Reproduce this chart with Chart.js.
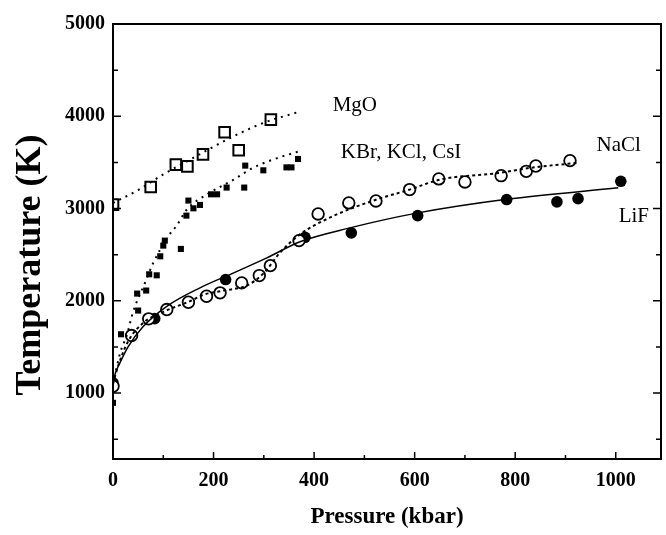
<!DOCTYPE html>
<html>
<head>
<meta charset="utf-8">
<script src="https://cdn.jsdelivr.net/npm/chart.js@4.4.1/dist/chart.umd.min.js"></script>
<style>
  html, body { margin: 0; padding: 0; background: #fff; }
  canvas { display: block; }
</style>
</head>
<body>
<canvas id="meltChart" width="666" height="535"></canvas>
<script>
// pressure (kbar), temperature (K)
const mgoP = [0, 75, 125, 148, 179, 222, 250, 314];
const mgoT = [3042, 3234, 3476, 3457, 3587, 3826, 3631, 3963];
const mgoFitP = [0, 50, 100, 150, 200, 250, 300, 365];
const mgoFitT = [3060, 3200, 3370, 3520, 3670, 3810, 3930, 4040];

const kbrP = [0, 16, 48, 50, 66, 72, 87, 94, 100, 103, 135, 146, 150, 160, 173, 195, 207, 226, 261, 263, 299, 345, 355, 368];
const kbrT = [894, 1637, 2078, 1894, 2111, 2287, 2276, 2482, 2598, 2652, 2562, 2923, 3086, 3002, 3039, 3154, 3154, 3227, 3227, 3465, 3414, 3446, 3446, 3537];
const kbrFitP = [0, 15, 27, 40, 64, 80, 110, 126, 147, 186, 239, 278, 318, 370];
const kbrFitT = [1100, 1450, 1620, 1880, 2200, 2410, 2700, 2810, 2990, 3150, 3310, 3440, 3530, 3620];

const naclP = [0, 37, 71, 107, 150, 186, 213, 256, 291, 313, 370, 408, 469, 523, 590, 648, 700, 772, 822, 841, 909];
const naclT = [1074, 1623, 1804, 1905, 1984, 2049, 2086, 2194, 2273, 2381, 2652, 2941, 3061, 3082, 3205, 3321, 3288, 3356, 3403, 3461, 3519];
const naclFitP = [0, 10, 30, 60, 100, 155, 180, 220, 266, 300, 332, 372, 437, 524, 590, 650, 769, 829, 922];
const naclFitT = [1100, 1290, 1560, 1760, 1880, 2000, 2065, 2110, 2165, 2300, 2520, 2720, 2916, 3097, 3205, 3313, 3386, 3440, 3494];

const lifP = [0, 83, 224, 382, 474, 606, 783, 883, 925, 1010];
const lifT = [1110, 1807, 2230, 2688, 2736, 2923, 3097, 3072, 3107, 3295];
const lifFitP = [0, 5, 14, 30, 60, 107, 173, 239, 306, 372, 471, 604, 783, 1005];
const lifFitT = [1110, 1220, 1330, 1500, 1720, 1940, 2140, 2300, 2465, 2640, 2790, 2950, 3100, 3225];

const xTicks = [0, 100, 200, 300, 400, 500, 600, 700, 800, 900, 1000];
const yTicks = [500, 1000, 1500, 2000, 2500, 3000, 3500, 4000, 4500, 5000];

const labels = [
  { text: 'MgO', p: 481, t: 4115 },
  { text: 'KBr, KCl, CsI', p: 573, t: 3603 },
  { text: 'NaCl', p: 1006, t: 3680 },
  { text: 'LiF', p: 1036, t: 2914 }
];

const FONT = '"Liberation Serif", "Times New Roman", serif';

function pts(xs, ys) {
  return xs.map((x, i) => ({ x: x, y: ys[i] }));
}

function fitLine(xs, ys, dash, width) {
  return {
    data: pts(xs, ys), showLine: true, pointRadius: 0,
    borderColor: '#000', borderWidth: width, borderDash: dash,
    cubicInterpolationMode: 'monotone', fill: false
  };
}

// frame, inward ticks, y title and text labels
const framePlugin = {
  id: 'frame',
  afterDraw(chart) {
    const ctx = chart.ctx;
    const a = chart.chartArea;
    const xs = chart.scales.x, ys = chart.scales.y;
    ctx.save();
    ctx.strokeStyle = '#000';
    ctx.lineWidth = 2;
    ctx.strokeRect(a.left, a.top, a.right - a.left, a.bottom - a.top);
    ctx.lineWidth = 1.5;
    ctx.beginPath();
    xTicks.forEach(v => {
      const px = xs.getPixelForValue(v);
      const len = v % 200 === 0 ? 7 : 4;
      ctx.moveTo(px, a.bottom);
      ctx.lineTo(px, a.bottom - len);
    });
    yTicks.forEach(v => {
      const py = ys.getPixelForValue(v);
      const len = v % 1000 === 0 ? 8 : 5;
      ctx.moveTo(a.left, py);
      ctx.lineTo(a.left + len, py);
      ctx.moveTo(a.right, py);
      ctx.lineTo(a.right - len, py);
    });
    ctx.stroke();
    ctx.fillStyle = '#000';
    ctx.font = '21px ' + FONT;
    ctx.textAlign = 'center';
    ctx.textBaseline = 'middle';
    labels.forEach(l => {
      ctx.fillText(l.text, xs.getPixelForValue(l.p), ys.getPixelForValue(l.t));
    });
    ctx.translate(31, 265);
    ctx.rotate(-Math.PI / 2);
    ctx.font = 'bold 36px ' + FONT;
    ctx.fillText('Temperature (K)', 0, 0);
    ctx.restore();
  }
};

const ctx = document.getElementById('meltChart');

new Chart(ctx, {
  type: 'scatter',
  data: {
    datasets: [
      fitLine(mgoFitP, mgoFitT, [2, 5], 2),
      fitLine(kbrFitP, kbrFitT, [2, 5], 2),
      fitLine(naclFitP, naclFitT, [3, 3], 2),
      fitLine(lifFitP, lifFitT, [], 1.5),
      {
        data: pts(mgoP, mgoT), pointStyle: 'rect', pointRadius: 7.5,
        pointBorderWidth: 2, pointBorderColor: '#000', pointBackgroundColor: '#fff'
      },
      {
        data: pts(kbrP, kbrT), pointStyle: 'rect', pointRadius: 4.3,
        pointBorderWidth: 0, pointBackgroundColor: '#000'
      },
      {
        data: pts(naclP, naclT), pointStyle: 'circle', pointRadius: 5.8,
        pointBorderWidth: 1.8, pointBorderColor: '#000', pointBackgroundColor: '#fff'
      },
      {
        data: pts(lifP, lifT), pointStyle: 'circle', pointRadius: 5.8,
        pointBorderWidth: 0, pointBackgroundColor: '#000'
      }
    ]
  },
  options: {
    responsive: false,
    animation: false,
    layout: { autoPadding: false, padding: { top: 24, right: 5, left: 0, bottom: 0 } },
    plugins: { legend: { display: false }, tooltip: { enabled: false } },
    scales: {
      x: {
        type: 'linear', min: 0, max: 1090,
        grid: { display: false, drawTicks: false },
        border: { display: false },
        afterBuildTicks: s => { s.ticks = xTicks.map(v => ({ value: v })); },
        afterFit: s => { s.height = 76; s.paddingLeft = 0; s.paddingRight = 0; },
        ticks: {
          color: '#000', padding: 10, maxRotation: 0, autoSkip: false,
          font: { family: FONT, size: 20, weight: 'bold' },
          callback: v => (v % 200 === 0 ? String(v) : '')
        },
        title: {
          display: true, text: 'Pressure (kbar)', color: '#000', padding: { top: 10 },
          font: { family: FONT, size: 23, weight: 'bold' }
        }
      },
      y: {
        type: 'linear', min: 285, max: 5000,
        grid: { display: false, drawTicks: false },
        border: { display: false },
        afterBuildTicks: s => { s.ticks = yTicks.map(v => ({ value: v })); },
        afterFit: s => { s.width = 113; s.paddingTop = 0; s.paddingBottom = 0; },
        ticks: {
          color: '#000', padding: 8, autoSkip: false,
          font: { family: FONT, size: 20, weight: 'bold' },
          callback: v => (v % 1000 === 0 ? String(v) : '')
        },
        title: { display: false }
      }
    }
  },
  plugins: [framePlugin]
});
</script>
</body>
</html>
